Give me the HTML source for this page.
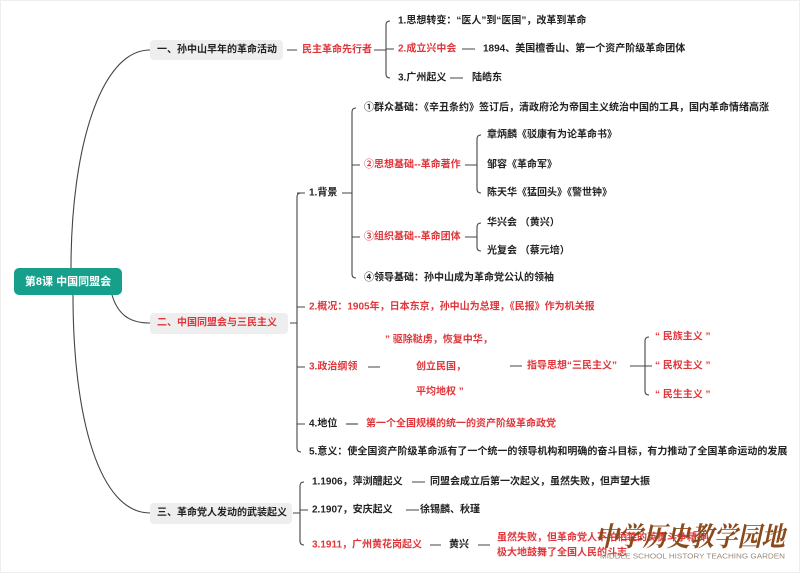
<!DOCTYPE html>
<html><head><meta charset="utf-8"><style>
html,body{margin:0;padding:0;background:#fff;}
svg text{font-family:"Liberation Sans","Noto Sans CJK SC",sans-serif;font-size:10px;font-weight:bold;dominant-baseline:central;}
.k{fill:#222}.r{fill:#e0363b}
</style></head><body>
<svg width="800" height="573" viewBox="0 0 800 573" xmlns="http://www.w3.org/2000/svg">
<rect x="0.5" y="0.5" width="799" height="572" fill="#fff" stroke="#eee"/>
<g fill="none" stroke="#444" stroke-width="1.1">
<path d="M71 268 C71 150 100 50 150 50"/>
<path d="M112 295 C118 315 130 323 150 323"/>
<path d="M73 295 C73 420 100 513 150 513"/>
<path d="M287 50 H297 M374 50 H386 M390 21 Q386 21 386 25 V74 Q386 78 390 78 M386 49 H394"/>
<path d="M462 49 H475 M450 78 H463"/>
<path d="M290 323 H297 M301 193 Q297 193 297 197 V448 Q297 452 301 452 M297 307 H305 M297 367 H305 M297 424 H305 M297 193 H305"/>
<path d="M342 193 H352 M356 108 Q352 108 352 112 V274 Q352 278 356 278 M352 165 H360 M352 237 H360"/>
<path d="M465 165 H477 M481 135 Q477 135 477 139 V189 Q477 193 481 193"/>
<path d="M465 237 H477 M481 223 Q477 223 477 227 V247 Q477 251 481 251"/>
<path d="M368 367 H380 M510 366 H522 M630 366 H645 M649 337 Q645 337 645 341 V391 Q645 395 649 395 M645 366 H652"/>
<path d="M346 424 H358"/>
<path d="M293 513 H300 M304 482 Q300 482 300 486 V541 Q300 545 304 545 M300 510 H308"/>
<path d="M412 482 H425 M406 510 H419 M430 545 H441 M478 545 H490"/>
</g>
<rect x="14" y="268" width="108" height="27" rx="5" fill="#16a08b"/>
<text x="68" y="282" text-anchor="middle" fill="#fff" style="font-size:11px">第8课  中国同盟会</text>
<rect x="150" y="40" width="133" height="20" rx="4" fill="#eeeeee"/>
<text x="157" y="50" class="k">一、孙中山早年的革命活动</text>
<rect x="150" y="313" width="138" height="21" rx="4" fill="#eeeeee"/>
<text x="157" y="323" class="r">二、中国同盟会与三民主义</text>
<rect x="150" y="503" width="142" height="21" rx="4" fill="#eeeeee"/>
<text x="157" y="513" class="k">三、革命党人发动的武装起义</text>
<text x="302" y="50" class="r">民主革命先行者</text>
<text x="398" y="21" class="k">1.思想转变：“医人”到“医国”，改革到革命</text>
<text x="398" y="49" class="r">2.成立兴中会</text>
<text x="483" y="49" class="k">1894、美国檀香山、第一个资产阶级革命团体</text>
<text x="398" y="78" class="k">3.广州起义</text>
<text x="472" y="78" class="k">陆皓东</text>
<text x="309" y="193" class="k">1.背景</text>
<text x="364" y="108" class="k">①群众基础：《辛丑条约》签订后，清政府沦为帝国主义统治中国的工具，国内革命情绪高涨</text>
<text x="364" y="165" class="r">②思想基础--革命著作</text>
<text x="487" y="135" class="k">章炳麟《驳康有为论革命书》</text>
<text x="487" y="165" class="k">邹容《革命军》</text>
<text x="487" y="193" class="k">陈天华《猛回头》《警世钟》</text>
<text x="364" y="237" class="r">③组织基础--革命团体</text>
<text x="487" y="223" class="k">华兴会 （黄兴）</text>
<text x="487" y="251" class="k">光复会 （蔡元培）</text>
<text x="364" y="278" class="k">④领导基础：孙中山成为革命党公认的领袖</text>
<text x="309" y="307" class="r">2.概况：1905年，日本东京，孙中山为总理，《民报》作为机关报</text>
<text x="309" y="367" class="r">3.政治纲领</text>
<text x="385" y="340" class="r">”  驱除鞑虏，恢复中华，</text>
<text x="416" y="367" class="r">创立民国，</text>
<text x="416" y="392" class="r">平均地权 ”</text>
<text x="527" y="366" class="r">指导思想“三民主义”</text>
<text x="655" y="337" class="r">“  民族主义 ”</text>
<text x="655" y="366" class="r">“  民权主义 ”</text>
<text x="655" y="395" class="r">“  民生主义 ”</text>
<text x="309" y="424" class="k">4.地位</text>
<text x="366" y="424" class="r">第一个全国规模的统一的资产阶级革命政党</text>
<text x="309" y="452" class="k">5.意义：使全国资产阶级革命派有了一个统一的领导机构和明确的奋斗目标，有力推动了全国革命运动的发展</text>
<text x="312" y="482" class="k">1.1906，萍浏醴起义</text>
<text x="430" y="482" class="k">同盟会成立后第一次起义，虽然失败，但声望大振</text>
<text x="312" y="510" class="k">2.1907，安庆起义</text>
<text x="420" y="510" class="k">徐锡麟、秋瑾</text>
<text x="312" y="545" class="r">3.1911，广州黄花岗起义</text>
<text x="449" y="545" class="k">黄兴</text>
<text x="497" y="538" class="r">虽然失败，但革命党人不怕牺牲的英勇斗争精神，</text>
<text x="497" y="553" class="r">极大地鼓舞了全国人民的斗志</text>
<text x="595" y="537" textLength="190" lengthAdjust="spacingAndGlyphs" style="font-size:27px;fill:#8a4a1c;font-family:'Liberation Serif','Noto Serif CJK SC',serif;font-style:italic">中学历史教学园地</text>
<text x="600" y="557" textLength="185" lengthAdjust="spacingAndGlyphs" style="font-size:7px;font-weight:normal;fill:#9a8a7a">MIDDLE SCHOOL HISTORY TEACHING GARDEN</text>
</svg>
</body></html>
